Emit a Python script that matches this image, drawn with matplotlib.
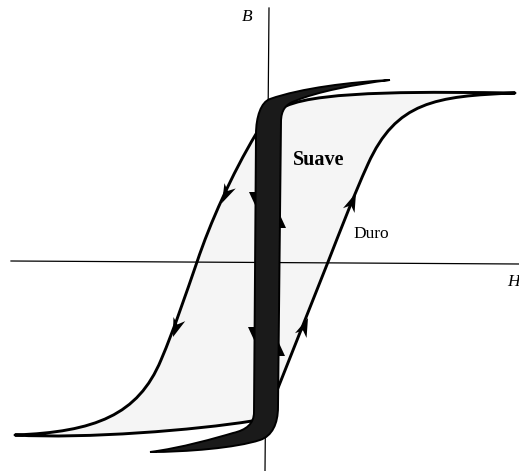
import matplotlib
matplotlib.use("Agg")
import matplotlib.pyplot as plt
from matplotlib.path import Path
from matplotlib.patches import PathPatch

# ---------------------------------------------------------------
# Hysteresis loops in the (H, B) plane, arbitrary units.
# Each loop is a closed chain of cubic Bezier segments:
# anchor, control, control, anchor, ...
# ---------------------------------------------------------------

# Hard material ("Duro"): wide loop
hard_H = [249, 170, 55, 20, 8, -4, -10, -34, -56, -69, -80.5, -91, -105,
          -128, -171, -251, -180, -70, -14, -2, 4, 12, 28.7, 45.3, 62,
          75, 87, 102, 130, 169, 249]
hard_B = [169, 170, 172, 156, 152, 138, 128, 88, 39, 0, -33, -65, -98,
          -153, -170, -173, -177, -168, -159, -156, -140, -126, -84, -42, 0,
          33, 65, 98, 160, 166, 169]

# Soft material ("Suave"): narrow loop, drawn as a filled band
soft_H = [124, 85, 35, 4, -5, -10, -10, -12, -12, -20, -33, -50, -85, -116,
          -80, -30, -6, 6, 12, 12, 15, 15, 20, 29, 50, 90, 124]
soft_B = [182, 180, 174, 163, 160, 145, 128, -150, -162, -168, -171, -176,
          -186, -190, -190, -186, -178, -174, -162, -145, 140, 152, 158, 161,
          170, 178, 182]
soft_seg = ["M", "C", "C", "C", "C", "C", "C", "L", "C", "C", "C", "C", "C",
            "C", "C", "C", "C", "C", "C", "C", "L", "C", "C", "C", "C", "C", "C"]

# Direction arrows on the hard loop (tail -> tip)
hard_arrow_tail = [(-36, 76), (-87, -58), (35, -73), (83, 52)]
hard_arrow_tip = [(-44, 59), (-93, -75), (42, -56), (90, 69)]

# Half arrows along the edges of the soft loop (tail -> tip)
soft_arrow_tail = [(-11, 70), (-12, -62), (14, 33), (13, -95)]
soft_arrow_tip = [(-11, 57), (-12, -78), (14, 47), (13, -81)]

# Coordinate axes (slightly skewed, as drawn by hand)
h_axis_H = [-255, 253]
h_axis_B = [1, -2]
v_axis_H = [3, -1]
v_axis_B = [254, -209]


def bezier_path(xs, ys, kinds=None):
    verts = list(zip(xs, ys))
    if kinds is None:
        codes = [Path.MOVETO] + [Path.CURVE4] * (len(verts) - 1)
    else:
        codes = [{"M": Path.MOVETO, "C": Path.CURVE4, "L": Path.LINETO}[k]
                 for k in kinds]
    verts.append(verts[0])
    codes.append(Path.CLOSEPOLY)
    return Path(verts, codes)


fig = plt.figure(figsize=(5.19, 4.71), dpi=100)
ax = fig.add_axes([0, 0, 1, 1])
ax.set_xlim(-266, 253)
ax.set_ylim(-209, 262)
ax.axis("off")

hard_path = bezier_path(hard_H, hard_B)
ax.add_patch(PathPatch(hard_path, facecolor="#f5f5f5", edgecolor="none",
                       zorder=1))

ax.plot(h_axis_H, h_axis_B, color="black", lw=0.9, zorder=2)
ax.plot(v_axis_H, v_axis_B, color="black", lw=0.9, zorder=2)

ax.add_patch(PathPatch(hard_path, facecolor="none", edgecolor="black",
                       lw=2.1, zorder=3, joinstyle="round"))

soft_path = bezier_path(soft_H, soft_B, soft_seg)
ax.add_patch(PathPatch(soft_path, facecolor="#1a1a1a", edgecolor="black",
                       lw=1.4, zorder=4))

for (x0, y0), (x1, y1) in zip(hard_arrow_tail, hard_arrow_tip):
    ax.arrow(x0, y0, x1 - x0, y1 - y0, width=0, head_width=12.5,
             head_length=19, overhang=0.3, length_includes_head=True,
             color="black", lw=0, zorder=5)

for (x0, y0), (x1, y1) in zip(soft_arrow_tail, soft_arrow_tip):
    ax.arrow(x0, y0, x1 - x0, y1 - y0, width=0, head_width=12,
             head_length=13, shape="left", length_includes_head=True,
             color="black", lw=0, zorder=5)

serif = "Liberation Serif"
ax.text(-19, 245, "B", fontsize=12.5, family=serif, style="italic",
        ha="center", va="center")
ax.text(241, -20, "H", fontsize=12.5, family=serif, style="italic",
        ha="left", va="center")
ax.text(53, 102, "Suave", fontsize=14.5, family=serif, weight="bold",
        ha="center", va="center")
ax.text(105, 28, "Duro", fontsize=12.5, family=serif,
        ha="center", va="center")

fig.savefig("out.png", dpi=100)
